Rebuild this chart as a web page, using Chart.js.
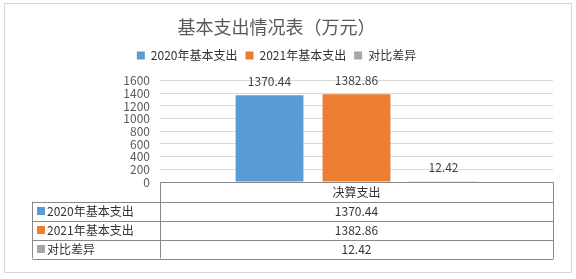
<!DOCTYPE html>
<html>
<head>
<meta charset="utf-8">
<script src="https://cdn.jsdelivr.net/npm/chart.js@4.4.0/dist/chart.umd.min.js"></script>
<style>
  html, body { margin: 0; padding: 0; background: #fff; }
  #wrap { width: 576px; height: 279px; }
</style>
</head>
<body>
<div id="wrap"><canvas id="chart" width="576" height="279"></canvas></div>
<script>
// DATA
const categories = ["决算支出"];
const seriesNames = ["2020年基本支出", "2021年基本支出", "对比差异"];
const values2020 = [1370.44];
const values2021 = [1382.86];
const diffValues = [12.42];
const yTicks = ["0", "200", "400", "600", "800", "1000", "1200", "1400", "1600"];
const labels2020 = ["1370.44"];
const labels2021 = ["1382.86"];
const labelsDiff = ["12.42"];

const colors = ["#5b9bd5", "#ed7d31", "#a5a5a5"];
const cjkFont = "'Noto Sans CJK SC', 'Noto Sans', sans-serif";

// outer frame like the excel chart area
const frame = {
  id: "frame",
  beforeDraw(chart) {
    const c = chart.ctx;
    c.save();
    c.fillStyle = "#fff";
    c.fillRect(0, 0, chart.width, chart.height);
    c.strokeStyle = "#d9d9d9";
    c.lineWidth = 1;
    c.strokeRect(4.5, 3.5, 567, 269);
    c.restore();
  },
};

// a bit more room under the legend
const legendSpace = {
  id: "legendSpace",
  beforeInit(chart) {
    const fit = chart.legend.fit;
    chart.legend.fit = function () {
      fit.bind(chart.legend)();
      this.height += 9;
    };
  },
};

// value labels over each bar
const barLabels = {
  id: "barLabels",
  afterDatasetsDraw(chart) {
    const c = chart.ctx;
    const texts = [labels2020, labels2021, labelsDiff];
    c.save();
    c.font = "12px " + cjkFont;
    c.fillStyle = "#404040";
    c.textAlign = "center";
    c.textBaseline = "middle";
    chart.data.datasets.forEach((ds, i) => {
      chart.getDatasetMeta(i).data.forEach((bar, j) => {
        c.fillText(texts[i][j], bar.x, bar.y - 14);
      });
    });
    c.restore();
  },
};

// data table under the plot
const dataTable = {
  id: "dataTable",
  afterDraw(chart) {
    const c = chart.ctx;
    const area = chart.chartArea;
    const xs = chart.scales.x;
    const rowH = 19;
    const top = Math.round(area.bottom) + 0.5;
    const left = Math.round(area.left) + 0.5;
    const right = Math.round(area.right) + 0.5;
    const tableLeft = 32.5;
    const rows = [values2020, values2021, diffValues];
    const texts = [labels2020, labels2021, labelsDiff];

    c.save();
    c.strokeStyle = "#898989";
    c.lineWidth = 1;
    c.beginPath();
    // axis line / header top
    c.moveTo(left, top);
    c.lineTo(right, top);
    c.moveTo(left, top);
    c.lineTo(left, top + rowH * 4);
    c.moveTo(right, top);
    c.lineTo(right, top + rowH * 4);
    c.moveTo(tableLeft, top + rowH);
    c.lineTo(tableLeft, top + rowH * 4);
    for (let r = 1; r <= 4; r++) {
      const y = Math.round(top + rowH * r) + 0.5;
      c.moveTo(tableLeft, y);
      c.lineTo(right, y);
    }
    c.stroke();

    c.font = "12px " + cjkFont;
    c.fillStyle = "#333";
    c.textBaseline = "middle";
    c.textAlign = "center";
    categories.forEach((cat, j) => {
      c.fillText(cat, xs.getPixelForValue(j), top + rowH / 2);
    });
    rows.forEach((vals, r) => {
      const cy = top + rowH * (r + 1.5);
      c.fillStyle = colors[r];
      c.fillRect(37, cy - 4, 8, 8);
      c.fillStyle = "#333";
      c.textAlign = "left";
      c.fillText(seriesNames[r], 47, cy);
      c.textAlign = "center";
      vals.forEach((v, j) => {
        c.fillText(texts[r][j], xs.getPixelForValue(j), cy);
      });
    });
    c.restore();
  },
};

const ctx = document.getElementById("chart").getContext("2d");
const my_chart = new Chart(ctx, {
  type: "bar",
  data: {
    labels: categories,
    datasets: [
      { label: seriesNames[0], data: values2020, backgroundColor: colors[0] },
      { label: seriesNames[1], data: values2021, backgroundColor: colors[1] },
      { label: seriesNames[2], data: diffValues, backgroundColor: colors[2] },
    ],
  },
  options: {
    responsive: false,
    animation: false,
    devicePixelRatio: 1,
    categoryPercentage: 0.664,
    barPercentage: 0.78,
    layout: { padding: { left: 0, right: 23, top: 0, bottom: 97 } },
    plugins: {
      title: {
        display: true,
        text: "基本支出情况表（万元）",
        color: "#595959",
        font: { size: 18, family: cjkFont, weight: "normal" },
        padding: { top: 16, bottom: 4 },
      },
      legend: {
        position: "top",
        labels: {
          boxWidth: 8,
          boxHeight: 8,
          padding: 8,
          color: "#333",
          font: { size: 12, family: cjkFont },
        },
      },
      tooltip: { enabled: false },
    },
    scales: {
      x: { display: false },
      y: {
        min: 0,
        max: 1600,
        afterFit(scale) {
          scale.width = 160;
        },
        border: { display: false },
        grid: { color: "#d9d9d9", drawTicks: false },
        ticks: {
          stepSize: 200,
          autoSkip: false,
          padding: 10,
          color: "#595959",
          font: { size: 12, family: cjkFont },
          callback: (v, i) => yTicks[i],
        },
      },
    },
  },
  plugins: [frame, legendSpace, barLabels, dataTable],
});
</script>
</body>
</html>
